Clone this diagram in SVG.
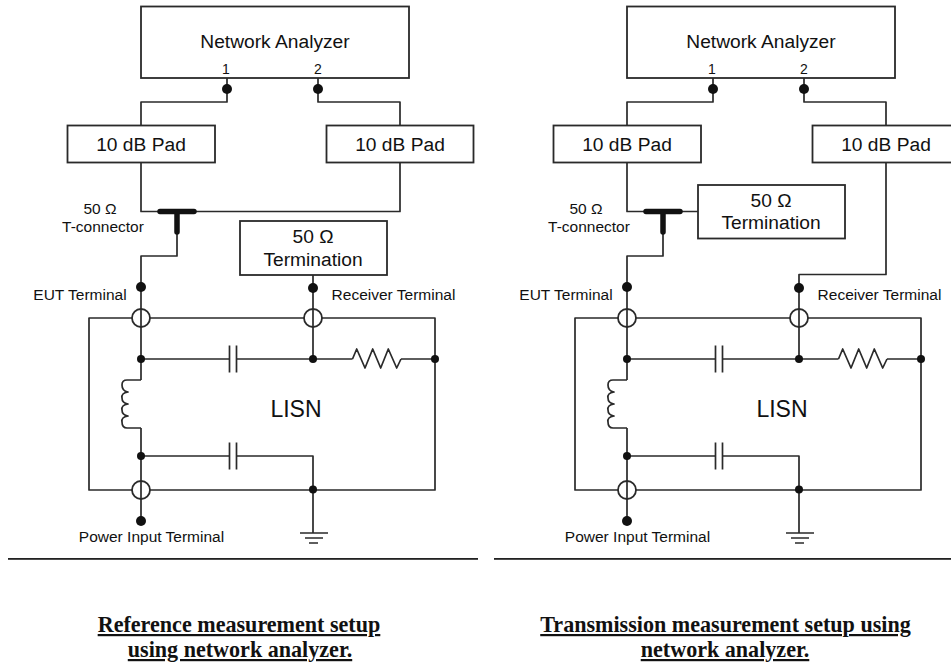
<svg xmlns="http://www.w3.org/2000/svg" width="951" height="663" viewBox="0 0 951 663">
<style>
text{font-family:"Liberation Sans",Arial,sans-serif;fill:#111;text-anchor:middle}
.b{fill:#fff;stroke:#2a2a2a;stroke-width:1.8}
.w{fill:none;stroke:#2a2a2a;stroke-width:1.7;stroke-linejoin:round}
.t{fill:none;stroke:#111;stroke-width:5.5;stroke-linecap:round}
.d{fill:#111}
.l{font-size:19.2px}
.s{font-size:15.5px}
.p{font-size:14px}
.m{font-size:23px}
.c{font-family:"Liberation Serif","Times New Roman",serif;font-weight:bold;font-size:22.100px;text-decoration:underline;fill:#111}
</style>
<defs>
<g id="cap"><path class="w" d="M229.500 -13.500V13.500M236.500 -13.500V13.500"/></g>
<g id="term"><circle class="b" cx="0" cy="0" r="9"/><path class="w" d="M0 -9V9"/></g>
<g id="res"><path class="w" d="M352.500 359L356.700 349 365 368 372.700 349 380.700 368 388.300 349 396.700 368 401 359"/></g>
<g id="ind"><path class="w" d="M141 380H127Q122 380 122 385Q122 391 128 392Q121 393 122 398Q122 403 128 404Q121 405 122 410Q122 415 128 416Q121 417 122 422Q122 428 127 428H141"/></g>
<g id="gnd"><path class="w" d="M300 533H328M305 538H323M309 543H318"/></g>
</defs>

<g id="connectors">
<g id="connectors-left">
<path class="w" d="M227 78V102H141V125M318 78V102H400V125M141 162V211.500H400V162M177 234V256H141V380M141 428V521M141 359H229.500M236.500 359H352.500M401 359H435M141 456H229.500M236.500 456H313V533M313 275V359"/>
<path class="w" d="M89 318H435V490H89Z"/>
</g>
<g id="connectors-right">
<path class="w" d="M713 78V102H627V125M804 78V102H886V125M627 162V211.500H698M886 162V274.500H799V359M663 234V256H627V380M627 428V521M627 359H715.500M722.500 359H838.500M887 359H921M627 456H715.500M722.500 456H799V533"/>
<path class="w" d="M575 318H921V490H575Z"/>
</g>
</g>

<g id="left-network-analyzer"><rect class="b" x="141" y="6.500" width="268" height="71.500"/><text class="l" x="275" y="48">Network Analyzer</text><text class="p" x="226" y="74">1</text><text class="p" x="318" y="74">2</text></g>
<g id="left-port-1"><circle class="d" cx="227" cy="89" r="5"/></g>
<g id="left-port-2"><circle class="d" cx="318" cy="89" r="5"/></g>
<g id="left-pad-1"><rect class="b" x="67.500" y="125.500" width="147.500" height="37"/><text class="l" x="141" y="150.500">10 dB Pad</text></g>
<g id="left-pad-2"><rect class="b" x="326.500" y="125.500" width="147" height="37"/><text class="l" x="400" y="150.500">10 dB Pad</text></g>
<g id="left-tee"><path class="t" d="M160 211.500H194M177 211.500V232"/><text class="s" x="100" y="214">50 Ω</text><text class="s" x="103" y="232">T-connector</text></g>
<g id="left-termination"><rect class="b" x="240" y="221" width="147" height="54"/><text class="l" x="313" y="243">50 Ω</text><text class="l" x="313" y="266">Termination</text></g>
<g id="left-eut"><circle class="d" cx="141" cy="287" r="5"/><use href="#term" x="141" y="318"/><text class="s" x="80" y="300">EUT Terminal</text></g>
<g id="left-receiver"><circle class="d" cx="313" cy="288" r="5"/><use href="#term" x="313" y="318"/><text class="s" x="393.500" y="300">Receiver Terminal</text></g>
<g id="left-power"><use href="#term" x="141" y="490"/><circle class="d" cx="141" cy="521" r="5"/><text class="s" x="151.500" y="542">Power Input Terminal</text></g>
<g id="left-c1"><use href="#cap" y="359"/></g>
<g id="left-c2"><use href="#cap" y="456"/></g>
<g id="left-r"><use href="#res"/></g>
<g id="left-l"><use href="#ind"/></g>
<g id="left-gnd"><use href="#gnd"/></g>
<g id="left-nodes"><circle class="d" cx="141" cy="359" r="4"/><circle class="d" cx="313" cy="359" r="4"/><circle class="d" cx="435" cy="359" r="4"/><circle class="d" cx="141" cy="456" r="4"/><circle class="d" cx="313" cy="489.500" r="4"/></g>
<g id="left-lisn"><text class="m" x="296" y="417">LISN</text></g>
<g id="left-caption"><rect x="8" y="558" width="470" height="1.800" fill="#222"/><text class="c" x="239" y="632">Reference measurement setup</text><text class="c" x="240" y="657">using network analyzer.</text></g>

<g id="right-network-analyzer"><rect class="b" x="627" y="6.500" width="268" height="71.500"/><text class="l" x="761" y="48">Network Analyzer</text><text class="p" x="712" y="74">1</text><text class="p" x="804" y="74">2</text></g>
<g id="right-port-1"><circle class="d" cx="713" cy="89" r="5"/></g>
<g id="right-port-2"><circle class="d" cx="804" cy="89" r="5"/></g>
<g id="right-pad-1"><rect class="b" x="553.500" y="125.500" width="147.500" height="37"/><text class="l" x="627" y="150.500">10 dB Pad</text></g>
<g id="right-pad-2"><rect class="b" x="812.500" y="125.500" width="147" height="37"/><text class="l" x="886" y="150.500">10 dB Pad</text></g>
<g id="right-tee"><path class="t" d="M646 211.500H680M663 211.500V232"/><text class="s" x="586" y="214">50 Ω</text><text class="s" x="589" y="232">T-connector</text></g>
<g id="right-termination"><rect class="b" x="698" y="185" width="147" height="53.500"/><text class="l" x="771" y="207">50 Ω</text><text class="l" x="771" y="229">Termination</text></g>
<g id="right-eut"><circle class="d" cx="627" cy="287" r="5"/><use href="#term" x="627" y="318"/><text class="s" x="566" y="300">EUT Terminal</text></g>
<g id="right-receiver"><circle class="d" cx="799" cy="288" r="5"/><use href="#term" x="799" y="318"/><text class="s" x="879.500" y="300">Receiver Terminal</text></g>
<g id="right-power"><use href="#term" x="627" y="490"/><circle class="d" cx="627" cy="521" r="5"/><text class="s" x="637.500" y="542">Power Input Terminal</text></g>
<g id="right-c1"><use href="#cap" x="486" y="359"/></g>
<g id="right-c2"><use href="#cap" x="486" y="456"/></g>
<g id="right-r"><use href="#res" x="486"/></g>
<g id="right-l"><use href="#ind" x="486"/></g>
<g id="right-gnd"><use href="#gnd" x="486"/></g>
<g id="right-nodes"><circle class="d" cx="627" cy="359" r="4"/><circle class="d" cx="799" cy="359" r="4"/><circle class="d" cx="921" cy="359" r="4"/><circle class="d" cx="627" cy="456" r="4"/><circle class="d" cx="799" cy="489.500" r="4"/></g>
<g id="right-lisn"><text class="m" x="782" y="417">LISN</text></g>
<g id="right-caption"><rect x="494" y="558" width="457" height="1.800" fill="#222"/><text class="c" x="725.500" y="632">Transmission measurement setup using</text><text class="c" x="725" y="657">network analyzer.</text></g>
</svg>
